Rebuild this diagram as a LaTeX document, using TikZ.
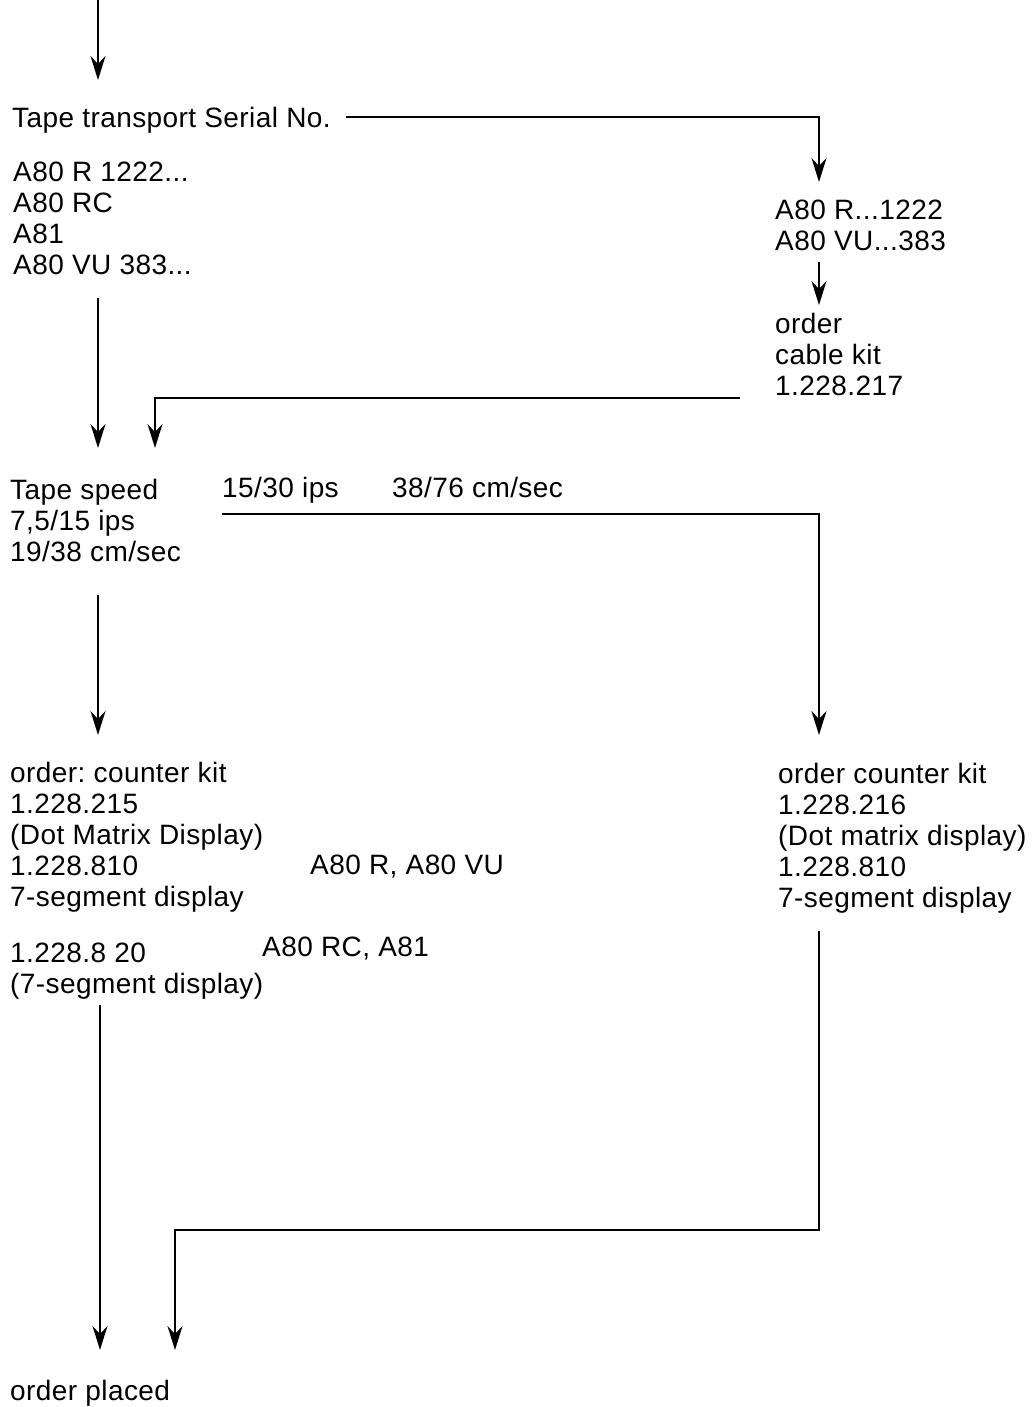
\documentclass[tikz,border=0pt]{standalone}
\usepackage{fontspec}
\setmainfont{Liberation Sans}[LetterSpace=1.5]
\usepackage{tikz}
\usetikzlibrary{arrows.meta,positioning}

\begin{document}
\frenchspacing
\begin{tikzpicture}[
  x=1pt, y=-1pt,
  every node/.style={anchor=north west, align=left, inner sep=0pt,
                     font=\fontsize{28}{31}\selectfont},
  arr/.style={-{Stealth[length=24pt,width=15pt,inset=8pt]}, line width=2pt}
]
\useasboundingbox (0,0) rectangle (1035,1407);
\coordinate (top) at (98,0);
\node (serial) at (12,107)  {Tape transport Serial No.};
\node (lmod)   at (13,162)  {A80 R 1222...\\ A80 RC\\ A81\\ A80 VU 383...};
\node (rmod)   at (775,200) {A80 R...1222\\ A80 VU...383};
\node (cable)  at (775,313) {order\\ cable kit\\ 1.228.217};
\node (speed)  at (10,479)  {Tape speed\\ 7,5/15 ips\\ 19/38 cm/sec};
\node (ips)    at (222,477) {15/30 ips};
\node (cms)    at (392,477) {38/76 cm/sec};
\node (kitL)   at (10,762)  {order: counter kit\\ 1.228.215\\ (Dot Matrix Display)\\ 1.228.810\\ 7-segment display};
\node (ar)     at (310,855) {A80 R, A80 VU};
\node (kit820) at (10,943)  {1.228.8 20\\ (7-segment display)};
\node (arc)    at (262,937) {A80 RC, A81};
\node (kitR)   at (778,763) {order counter kit\\ 1.228.216\\ (Dot matrix display)\\ 1.228.810\\ 7-segment display};
\node (placed) at (10,1380) {order placed};

\draw[arr] (top) -- ([xshift=86pt,yshift=27pt]serial.north west);
\draw[arr] ([xshift=15pt,yshift=3pt]serial.east) -| ([xshift=44pt,yshift=18pt]rmod.north west);
\draw[arr] ([xshift=44pt,yshift=-11pt]rmod.south west) -- ([xshift=44pt,yshift=8pt]cable.north west);
\draw[arr] ([xshift=-35pt,yshift=-2pt]cable.south west) -| ([xshift=145pt,yshift=31pt]speed.north west);
\draw[arr] ([xshift=85pt,yshift=-23pt]lmod.south west) -- ([xshift=88pt,yshift=31pt]speed.north west);
\draw[arr] ([yshift=-10pt]ips.south west) -| ([xshift=41pt,yshift=28pt]kitR.north west);
\draw[arr] ([xshift=88pt,yshift=-33pt]speed.south west) -- ([xshift=88pt,yshift=27pt]kitL.north west);
\draw[arr] ([xshift=41pt,yshift=-17pt]kitR.south west) |- ([xshift=165pt,yshift=150pt]placed.north west)
  -- ([xshift=165pt,yshift=30pt]placed.north west);
\draw[arr] ([xshift=90pt,yshift=-5pt]kit820.south west) -- ([xshift=90pt,yshift=30pt]placed.north west);
\end{tikzpicture}
\end{document}
